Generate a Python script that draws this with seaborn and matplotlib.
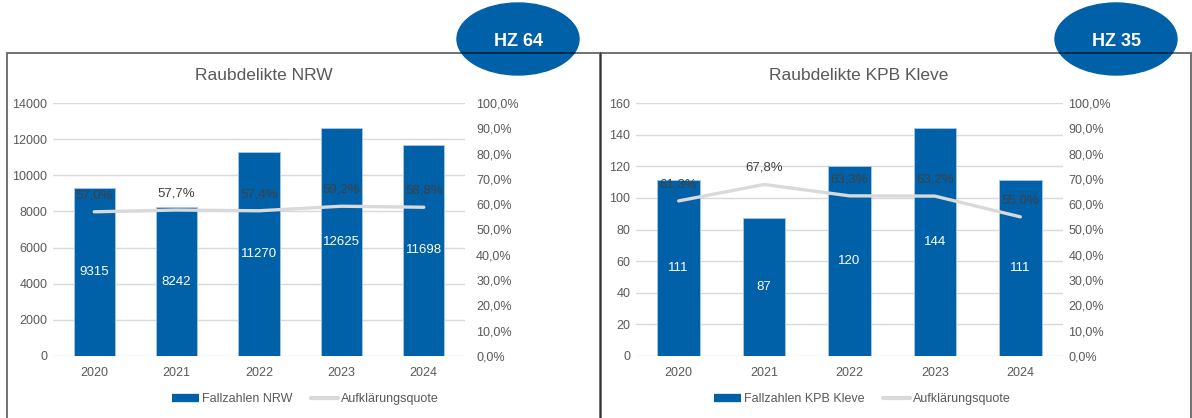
import numpy as np
import pandas as pd
import matplotlib
matplotlib.use("Agg")
import matplotlib.pyplot as plt
from matplotlib.patches import Ellipse, Rectangle
from matplotlib.lines import Line2D
from matplotlib.ticker import FuncFormatter, MultipleLocator
import seaborn as sns

years = ["2020", "2021", "2022", "2023", "2024"]
nrw_cases = [9315, 8242, 11270, 12625, 11698]
nrw_rate = [57.0, 57.7, 57.4, 59.2, 58.8]
kleve_cases = [111, 87, 120, 144, 111]
kleve_rate = [61.3, 67.8, 63.3, 63.2, 55.0]

BLUE = "#0060A8"
LINE = "#D9D9D9"
TXT = "#595959"

sns.set_style("white")
plt.rcParams["font.family"] = ["Liberation Sans", "DejaVu Sans"]

fig = plt.figure(figsize=(11.92, 4.18), dpi=100)
W, H = 1192, 418


def panel(rect, cases, rate, ymax, ystep, title, title_x, bar_name, legend_x, rpad):
    ax = fig.add_axes(rect)
    df = pd.DataFrame({"year": years, "cases": cases, "rate": np.array(rate) / 100})
    sns.barplot(data=df, x="year", y="cases", color=BLUE, saturation=1, width=0.5,
                edgecolor="#A9C8E8", linewidth=0.6, ax=ax, zorder=2)
    ax.set_ylim(0, ymax)
    ax.yaxis.set_major_locator(MultipleLocator(ystep))
    ax.grid(axis="y", color="#D9D9D9", lw=1)
    ax.set_axisbelow(True)
    for s in ax.spines.values():
        s.set_visible(False)
    ax.set_xlabel("")
    ax.set_ylabel("")
    ax.tick_params(axis="y", length=0, pad=4, labelsize=9, labelcolor=TXT)
    ax.tick_params(axis="x", length=0, pad=8, labelsize=9, labelcolor=TXT)
    ax.bar_label(ax.containers[0], label_type="center", color="white", fontsize=9.5)

    ax2 = ax.twinx()
    sns.pointplot(data=df, x="year", y="rate", color=LINE, marker="", linewidth=2.4,
                  errorbar=None, ax=ax2)
    ax2.set_ylim(0, 1)
    ax2.yaxis.set_major_locator(MultipleLocator(0.1))
    ax2.yaxis.set_major_formatter(FuncFormatter(lambda v, p: f"{v*100:.1f}%".replace(".", ",")))
    ax2.tick_params(axis="y", length=0, pad=rpad, labelsize=9, labelcolor=TXT)
    ax2.set_ylabel("")
    ax2.grid(False)
    for s in ax2.spines.values():
        s.set_visible(False)
    for i, r in enumerate(df["rate"]):
        ax2.annotate(f"{r*100:.1f}%".replace(".", ","), (i, r), xytext=(0, 12),
                     textcoords="offset points", ha="center", va="center",
                     fontsize=9.5, color="#404040")

    fig.text(title_x / W, 1 - 75 / H, title, ha="center", va="center",
             fontsize=12.5, color=TXT)
    handles = [Line2D([], [], color=BLUE, lw=6, solid_capstyle="butt"),
               Line2D([], [], color=LINE, lw=3)]
    fig.legend(handles, [bar_name, "Aufklärungsquote"], loc="center",
               bbox_to_anchor=(legend_x / W, 1 - 399 / H), ncol=2, frameon=False,
               fontsize=9, labelcolor=TXT, handlelength=2.2, handletextpad=0.2,
               columnspacing=1.5)
    return ax


panel([53 / W, 62 / H, 412 / W, 253 / H], nrw_cases, nrw_rate, 14000, 2000,
      "Raubdelikte NRW", 264, "Fallzahlen NRW", 305, 8)
panel([636 / W, 62 / H, 427 / W, 253 / H], kleve_cases, kleve_rate, 160, 20,
      "Raubdelikte KPB Kleve", 859, "Fallzahlen KPB Kleve", 862, 4)

# HZ badges
for cx, label in [(518, "HZ 64"), (1116, "HZ 35")]:
    fig.patches.append(Ellipse((cx / W, 1 - 39 / H), 122 / W, 72 / H,
                               transform=fig.transFigure, color=BLUE, zorder=5))
    fig.text(cx / W, 1 - 41 / H, label, ha="center", va="center", color="white",
             fontsize=13, fontweight="bold", zorder=7)

# panel frames
for x0, x1 in [(7, 600), (601, 1191)]:
    fig.patches.append(Rectangle((x0 / W, -0.05), (x1 - x0) / W, 1.05 - 53 / H,
                                 transform=fig.transFigure, fill=False,
                                 edgecolor="black", alpha=0.6, lw=1.3, zorder=6))

fig.savefig("out.png", dpi=100)
